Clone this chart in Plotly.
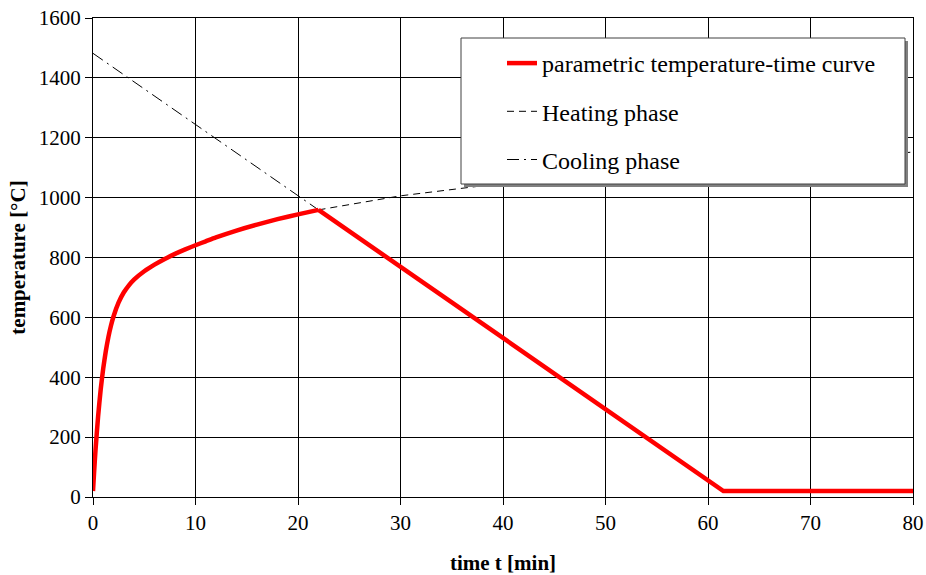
import plotly.graph_objects as go

# Parametric temperature-time curve (heating branch)
heat_t = [0, 0.1, 0.25, 0.5, 0.75, 1, 1.25, 1.5, 1.75, 2, 2.5, 3, 3.5, 4, 5, 6, 7, 8, 9,
          10, 11, 12, 14, 16, 18, 20, 22]
heat_T = [20, 79, 159, 270, 359, 430, 487, 534, 572, 603, 650, 683, 707, 726, 754, 776, 795,
          812, 827, 841, 854, 867, 890, 910, 928, 944, 959]
# Cooling branch down to ambient plateau
cool_t = [22, 61.5, 80]
cool_T = [959, 20, 20]

# Heating phase continuation (dashed)
hp_t = [22, 30, 40, 50, 60, 70, 80]
hp_T = [959, 1006, 1048, 1081, 1108, 1131, 1152]

# Cooling phase extension (dash-dot)
cp_t = [0, 22]
cp_T = [1482, 959]

x_ticks = [0, 10, 20, 30, 40, 50, 60, 70, 80]
y_ticks = [0, 200, 400, 600, 800, 1000, 1200, 1400, 1600]

FONT = "Liberation Serif"
RED = "#ff0000"

fig = go.Figure()
fig.add_trace(go.Scatter(x=cp_t, y=cp_T, mode="lines", name="Cooling phase",
                         line=dict(color="black", width=1, dash="12px,5px,2px,5px"),
                         legendrank=3, legendgroup="c"))
fig.add_trace(go.Scatter(x=hp_t, y=hp_T, mode="lines", name="Heating phase",
                         line=dict(color="black", width=1, dash="7px,5px"),
                         legendrank=2, legendgroup="b"))
fig.add_trace(go.Scatter(x=heat_t, y=heat_T, mode="lines",
                         name="parametric temperature-time curve",
                         line=dict(color=RED, width=4.5, shape="spline", smoothing=0.6),
                         legendrank=1, legendgroup="a"))
fig.add_trace(go.Scatter(x=cool_t, y=cool_T, mode="lines",
                         name="parametric temperature-time curve",
                         line=dict(color=RED, width=4.5),
                         showlegend=False, legendgroup="a"))

# legend box with shadow (pixel -> paper conversion)
L, R, T, B = 93, 913, 18, 497
def px(x):
    return (x - L) / (R - L)
def py(y):
    return (B - y) / (B - T)

fig.add_shape(type="rect", xref="paper", yref="paper",
              x0=px(464), x1=px(908), y0=py(187), y1=py(41),
              fillcolor="#808080", line=dict(width=0), layer="above")
fig.add_shape(type="rect", xref="paper", yref="paper",
              x0=px(461), x1=px(905), y0=py(184), y1=py(38),
              fillcolor="white", line=dict(color="#404040", width=1), layer="above")

fig.update_layout(
    width=926, height=575,
    margin=dict(l=L, r=926 - R, t=T, b=575 - B),
    paper_bgcolor="white", plot_bgcolor="white",
    font=dict(family=FONT, size=21, color="black"),
    showlegend=True,
    legend=dict(x=px(502), y=py(41), xanchor="left", yanchor="top",
                bgcolor="rgba(0,0,0,0)", borderwidth=0,
                font=dict(family=FONT, size=24, color="black"),
                traceorder="grouped", tracegroupgap=14),
    xaxis=dict(range=[0, 80], tickvals=x_ticks, ticktext=[str(v) for v in x_ticks],
               showgrid=True, gridcolor="black", gridwidth=1,
               showline=True, linecolor="black", linewidth=1, mirror=True,
               ticks="outside", ticklen=7, tickcolor="black",
               zeroline=False, fixedrange=True, automargin=False,
               title=dict(text="<b>time t [min]</b>", font=dict(family=FONT, size=21), standoff=21)),
    yaxis=dict(range=[0, 1600], tickvals=y_ticks, ticktext=[str(v) for v in y_ticks],
               showgrid=True, gridcolor="black", gridwidth=1,
               showline=True, linecolor="black", linewidth=1, mirror=True,
               ticks="outside", ticklen=7, tickcolor="black",
               zeroline=False, fixedrange=True, automargin=False,
               title=dict(text="<b>temperature [°C]</b>", font=dict(family=FONT, size=21), standoff=7)),
)

fig.write_html("out.html")
